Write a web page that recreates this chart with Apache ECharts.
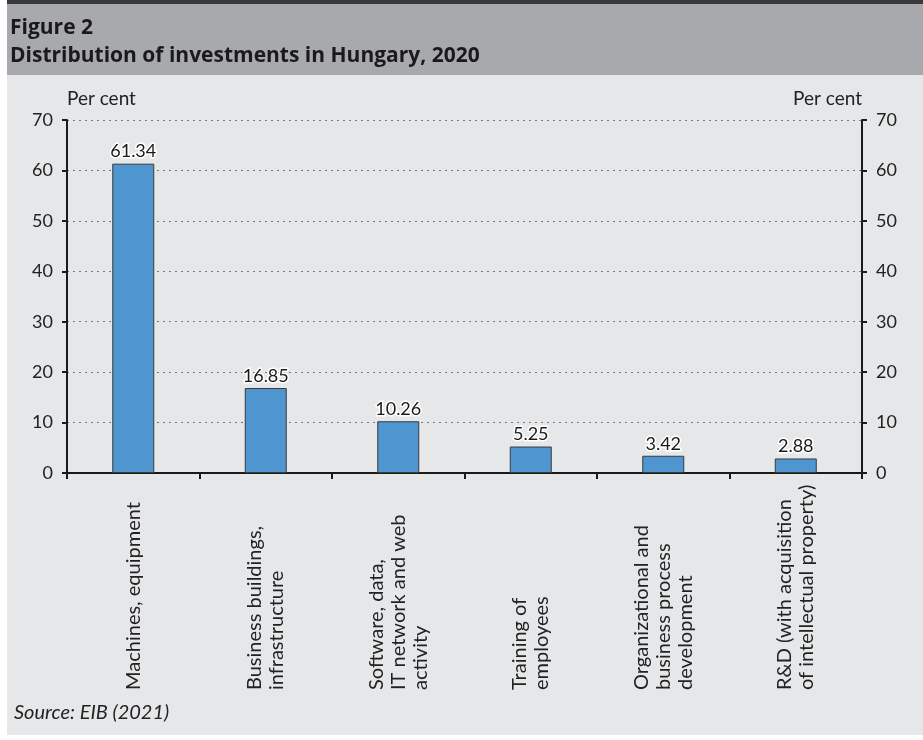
<!DOCTYPE html>
<html>
<head>
<meta charset="utf-8">
<script src="https://cdn.jsdelivr.net/npm/echarts@6/dist/echarts.min.js"></script>
<style>
html,body{margin:0;padding:0;background:#fff;}
#chart{width:923px;height:740px;}
</style>
</head>
<body>
<div id="chart"></div>
<script>
const categories = [
  "Machines, equipment",
  "Business buildings,\ninfrastructure",
  "Software, data,\nIT network and web\nactivity",
  "Training of\nemployees",
  "Organizational and\nbusiness process\ndevelopment",
  "R&D (with acquisition\nof intellectual property)"
];
const values = [61.34, 16.85, 10.26, 5.25, 3.42, 2.88];
const yTicks = [0, 10, 20, 30, 40, 50, 60, 70];

const FONT = 'Lato, "Open Sans", sans-serif';
const TFONT = '"Open Sans", Lato, sans-serif';
const chart = echarts.init(document.getElementById('chart'), null, {renderer: 'canvas'});
const yMin = yTicks[0], yMax = yTicks[yTicks.length - 1], yStep = yTicks[1] - yTicks[0];

const yAxisCommon = {
  type: 'value', min: yMin, max: yMax, interval: yStep,
  axisLine: {show: true, lineStyle: {color: '#1a1a1a', width: 2}},
  axisTick: {show: true, length: 5, lineStyle: {color: '#1a1a1a', width: 2}},
  axisLabel: {color: '#222', fontSize: 18, fontFamily: FONT, margin: 14},
  name: 'Per cent', nameLocation: 'end', nameGap: 12,
};

chart.setOption({
  animation: false,
  backgroundColor: '#ffffff',
  graphic: [
    {type: 'rect', shape: {x: 7, y: 0, width: 916, height: 4}, style: {fill: '#3a3a3a'}, z: -10},
    {type: 'rect', shape: {x: 7, y: 4, width: 916, height: 71}, style: {fill: '#a8a9ac'}, z: -10},
    {type: 'rect', shape: {x: 7, y: 75, width: 916, height: 660}, style: {fill: '#e6e7e9'}, z: -10},
    {type: 'text', x: 10, y: 18, style: {text: 'Figure 2', fill: '#1a1a1a', font: 'bold 21px ' + TFONT}},
    {type: 'text', x: 10, y: 46, style: {text: 'Distribution of investments in Hungary, 2020', fill: '#1a1a1a', font: 'bold 21px ' + TFONT}},
    {type: 'text', x: 14, y: 703, style: {text: 'Source: EIB (2021)', fill: '#222', font: 'italic 20px ' + FONT}}
  ],
  grid: {left: 67, right: 61, top: 120, bottom: 267},
  xAxis: {
    type: 'category', data: categories,
    axisLine: {lineStyle: {color: '#1a1a1a', width: 2}},
    axisTick: {show: true, length: 6, lineStyle: {color: '#1a1a1a', width: 2}},
    axisLabel: {rotate: 90, align: 'left', verticalAlign: 'middle', margin: 217, interval: 0,
      color: '#222', fontSize: 20, lineHeight: 22, fontFamily: FONT}
  },
  yAxis: [
    Object.assign({}, yAxisCommon, {
      position: 'left',
      nameTextStyle: {color: '#222', fontSize: 19, fontFamily: FONT, align: 'left'},
      splitLine: {show: true, lineStyle: {color: '#777', width: 1, type: [2, 4]}}
    }),
    Object.assign({}, yAxisCommon, {
      position: 'right',
      nameTextStyle: {color: '#222', fontSize: 19, fontFamily: FONT, align: 'right'},
      splitLine: {show: false}
    })
  ],
  series: [{
    type: 'bar', data: values, barWidth: 42, yAxisIndex: 0,
    itemStyle: {color: '#4f95d0', borderColor: '#3a3a3a', borderWidth: 1},
    label: {show: true, position: 'top', distance: 3, color: '#1a1a1a', fontSize: 18, fontFamily: FONT,
      textBorderColor: '#fff', textBorderWidth: 3, formatter: p => p.value.toFixed(2)}
  }]
});
</script>
</body>
</html>
